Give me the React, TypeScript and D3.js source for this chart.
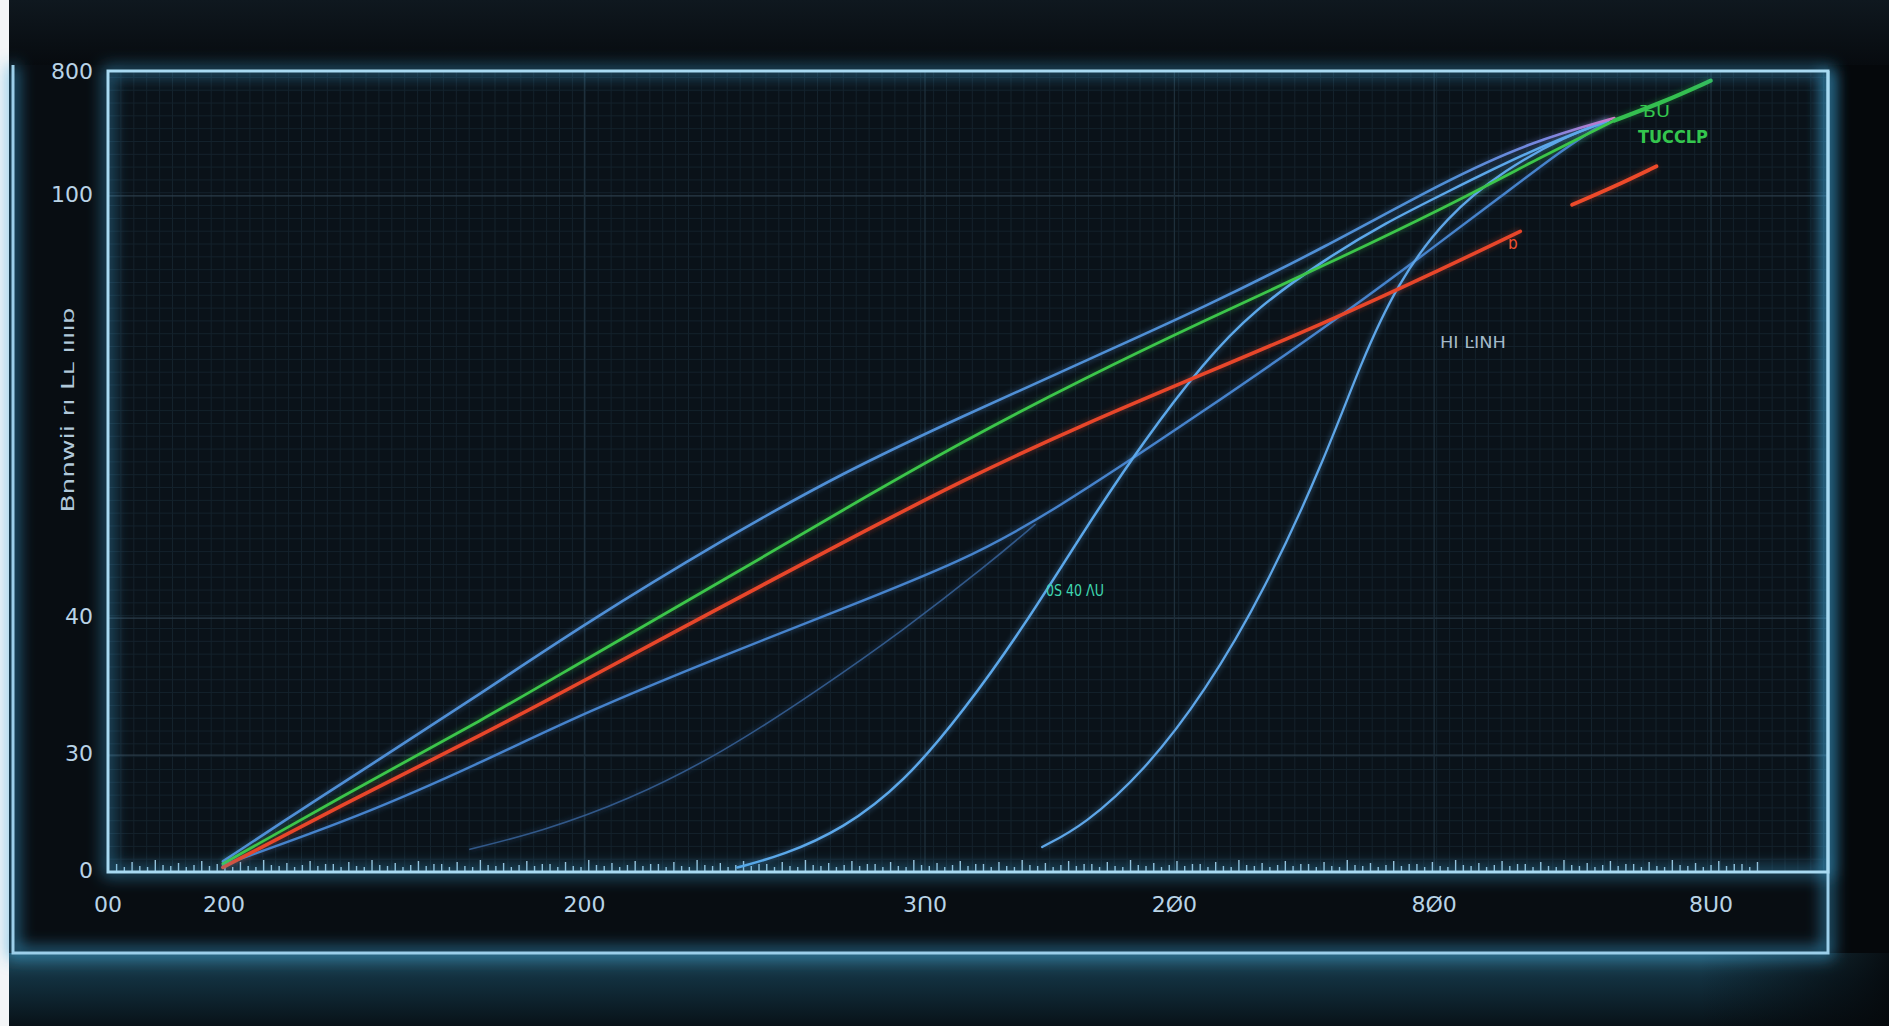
import React from 'react';
import * as d3 from 'd3';

const W = 1889;
const H = 1026;

// ---- axis ticks ----
const yTickValues = [0, 14.6, 31.7, 84.4, 99.8];
const yTickLabels = ['0', '30', '40', '100', '800'];
const xTickValues = [0, 6.75, 27.7, 47.5, 62.0, 77.1, 93.2];
const xTickLabels = ['00', '200', '200', '3Ո0', '2Ø0', '8Ø0', '8Ս0'];
const yAxisTitle = 'Bnnwii rı Lʟ ııııɒ';

// ---- series (x, y) ----
const blueTop: [number, number][] = [
  [6.68, 1.32], [11.23, 7.79], [14.73, 12.61], [21.74, 22.38], [27.69, 30.96], [35.74, 41.49],
  [42.75, 49.91], [49.76, 56.98], [56.76, 63.75], [63.76, 70.51], [70.77, 78.03], [77.77, 86.3],
  [82.67, 91.12], [87.58, 94.12],
];
const green: [number, number][] = [
  [6.68, 1.02], [14.73, 10.8], [21.74, 18.93], [27.69, 26.45], [35.74, 36.37], [42.75, 45.24],
  [49.76, 53.84], [56.76, 61.64], [63.76, 68.86], [70.77, 75.78], [77.77, 83.0], [83.37, 89.3],
  [87.58, 93.82],
];
const greenTail: [number, number][] = [[87.58, 93.82], [90.38, 96.08], [93.18, 98.79]];
const red: [number, number][] = [
  [6.68, 0.57], [14.73, 9.6], [21.74, 17.12], [27.69, 23.89], [35.74, 33.21], [42.75, 41.18],
  [49.76, 49.0], [56.76, 55.92], [63.76, 62.24], [70.77, 68.56], [77.77, 75.48], [82.11, 79.99],
];
const redTail: [number, number][] = [[85.12, 83.3], [87.58, 85.56], [90.03, 88.11]];
const blueMid: [number, number][] = [
  [6.68, 0.87], [14.73, 7.0], [21.74, 13.7], [27.69, 19.9], [35.74, 27.0], [42.75, 32.9],
  [49.76, 38.9], [54.66, 44.6], [63.76, 57.6], [70.77, 68.0], [75.88, 76.08], [81.27, 84.8],
  [84.77, 90.51], [87.23, 93.82],
];
const blueFaint: [number, number][] = [
  [21.04, 2.83], [25.24, 5.09], [30.14, 8.85], [35.74, 14.87], [41.35, 22.8], [46.25, 30.2],
  [51.16, 38.4], [53.9, 43.4],
];
const blueS1: [number, number][] = [
  [36.59, 0.57], [39.25, 2.08], [42.75, 5.39], [46.25, 11.1], [49.76, 20.12], [53.26, 30.66],
  [56.76, 42.69], [60.26, 53.97], [63.76, 63.75], [66.56, 70.06], [70.77, 76.53], [74.27, 81.04],
  [77.77, 84.8], [82.67, 90.06], [87.23, 93.82],
];
const blueS2: [number, number][] = [
  [54.31, 3.13], [56.76, 5.84], [60.26, 12.61], [63.76, 22.38], [67.26, 35.17], [70.77, 51.71],
  [72.87, 63.75], [74.97, 73.52], [77.77, 81.79], [81.27, 87.8], [84.77, 91.87], [87.23, 93.82],
];

// ---- annotations ----
const annoTexts = ['0S 40 ΛU', 'HI ĿINH', 'TUCCLP', 'ЪU', 'ɒ'];
const annoX = [54.53, 77.44, 88.95, 89.07, 81.4];
const annoY = [35.08, 66.04, 91.64, 94.88, 78.4];

// ---- layout / styles ----
const PL = 108, PR = 1828, PT = 71, PB = 872;
const annoColors = ['#3fd6b0', '#a3b8c8', '#34c64e', '#34c64e', '#ee5030'];
const annoSizes = [15, 16, 17, 15, 17];
const annoLens = [58, 66, 70, 30, 0];

const tickPattern = [8, 5, 10, 6, 5, 12, 7, 6, 9, 5, 7, 11, 6, 8];

export default function App() {
  const x = d3.scaleLinear().domain([0, 100]).range([PL, PR]);
  const y = d3.scaleLinear().domain([0, 100]).range([PB, PT]);
  const line = d3
    .line<[number, number]>()
    .x((d) => x(d[0]))
    .y((d) => y(d[1]))
    .curve(d3.curveBasis);

  const minorX = d3.range(0, 100, 0.75);
  const minorY = d3.range(0, 100, 1.6);
  const smallTicks = d3.range(0.5, 96, 0.45);

  const series = [
    { d: blueFaint, c: '#3a67a0', w: 1.6, o: 0.8 },
    { d: blueMid, c: '#4683cc', w: 2.4, o: 1 },
    { d: blueS2, c: '#5ea6e8', w: 2.3, o: 1 },
    { d: blueS1, c: '#5ca8ea', w: 2.5, o: 1 },
    { d: blueTop, c: 'url(#gradTop)', w: 2.6, o: 1 },
    { d: red, c: '#e8462a', w: 3.6, o: 1 },
    { d: green, c: '#3cc64a', w: 2.8, o: 1 },
    { d: greenTail, c: '#34c050', w: 4.2, o: 1 },
    { d: redTail, c: '#ee4a2a', w: 3.8, o: 1 },
  ];

  return (
    <svg
      width={W}
      height={H}
      viewBox={`0 0 ${W} ${H}`}
      style={{ position: 'fixed', left: 0, top: 0, display: 'block' }}
    >
      <defs>
        <linearGradient id="topBand" x1="0" y1="0" x2="0" y2="1">
          <stop offset="0" stopColor="#0f181f" />
          <stop offset="1" stopColor="#070b0f" />
        </linearGradient>
        <linearGradient id="bottomGlow" x1="0" y1="0" x2="0" y2="1">
          <stop offset="0" stopColor="#21495a" />
          <stop offset="0.35" stopColor="#12303f" />
          <stop offset="1" stopColor="#081218" />
        </linearGradient>
        <linearGradient id="bottomFade" x1="0" y1="0" x2="1" y2="0">
          <stop offset="0" stopColor="#05080b" stopOpacity="0" />
          <stop offset="0.9" stopColor="#05080b" stopOpacity="0" />
          <stop offset="1" stopColor="#05080b" stopOpacity="0.9" />
        </linearGradient>
        <linearGradient id="gradTop" gradientUnits="userSpaceOnUse" x1={x(78)} y1="0" x2={x(87.6)} y2="0">
          <stop offset="0" stopColor="#4f8fd6" />
          <stop offset="0.6" stopColor="#7a86e0" />
          <stop offset="1" stopColor="#d078c8" />
        </linearGradient>
        <filter id="glow" x="-20%" y="-20%" width="140%" height="140%">
          <feGaussianBlur stdDeviation="8" />
        </filter>
        <filter id="softglow" x="-10%" y="-10%" width="120%" height="120%">
          <feGaussianBlur stdDeviation="2.5" />
        </filter>
        <clipPath id="plotClip">
          <rect x={PL} y={PT} width={PR - PL} height={PB - PT} />
        </clipPath>
      </defs>

      {/* backgrounds */}
      <rect x={0} y={0} width={W} height={H} fill="#05080b" />
      <rect x={0} y={0} width={W} height={65} fill="url(#topBand)" />
      <rect x={13} y={65} width={PR - 13} height={953 - 65} fill="#080d12" />
      <rect x={0} y={953} width={W} height={H - 953} fill="url(#bottomGlow)" />
      <rect x={0} y={953} width={W} height={H - 953} fill="url(#bottomFade)" />
      <rect x={0} y={0} width={9} height={H} fill="#f3f5f7" />
      <rect x={PL} y={PT} width={PR - PL} height={PB - PT} fill="#0a1219" />

      {/* grid */}
      <g clipPath="url(#plotClip)">
        {minorX.map((v, i) => (
          <line key={'mx' + i} x1={x(v)} x2={x(v)} y1={PT} y2={PB} stroke="#14222c" strokeWidth={1} />
        ))}
        {minorY.map((v, i) => (
          <line key={'my' + i} x1={PL} x2={PR} y1={y(v)} y2={y(v)} stroke="#14222c" strokeWidth={1} />
        ))}
        {yTickValues.slice(1, 4).map((v, i) => (
          <line key={'gy' + i} x1={PL} x2={PR} y1={y(v)} y2={y(v)} stroke="#2b3d4a" strokeWidth={1.3} />
        ))}
        {xTickValues.slice(2).map((v, i) => (
          <line key={'gx' + i} x1={x(v)} x2={x(v)} y1={PT} y2={PB} stroke="#1e2f3b" strokeWidth={1.3} />
        ))}
      </g>

      {/* dense axis ticks */}
      {smallTicks.map((v, i) => (
        <line
          key={'st' + i}
          x1={x(v)}
          x2={x(v)}
          y1={PB}
          y2={PB - tickPattern[i % tickPattern.length]}
          stroke="#b4dcf2"
          strokeOpacity={0.9}
          strokeWidth={1.4}
        />
      ))}

      {/* series */}
      <g clipPath="url(#plotClip)">
        {series.map((s, i) => (
          <path
            key={'g' + i}
            d={line(s.d) || ''}
            fill="none"
            stroke={s.c}
            strokeWidth={s.w + 3}
            strokeOpacity={0.25 * s.o}
            filter="url(#softglow)"
          />
        ))}
        {series.map((s, i) => (
          <path
            key={'s' + i}
            d={line(s.d) || ''}
            fill="none"
            stroke={s.c}
            strokeWidth={s.w}
            strokeOpacity={s.o}
            strokeLinecap="round"
          />
        ))}
      </g>

      {/* frames with glow */}
      <path
        d={`M13,65 L13,953 L${PR},953 L${PR},${PT}`}
        fill="none"
        stroke="#3aa6dc"
        strokeWidth={10}
        strokeOpacity={0.7}
        filter="url(#glow)"
      />
      <rect
        x={PL}
        y={PT}
        width={PR - PL}
        height={PB - PT}
        fill="none"
        stroke="#3aa6dc"
        strokeWidth={9}
        strokeOpacity={0.6}
        filter="url(#glow)"
      />
      <path d={`M13,65 L13,953 L${PR},953 L${PR},${PT}`} fill="none" stroke="#9ccfea" strokeWidth={3} />
      <rect x={PL} y={PT} width={PR - PL} height={PB - PT} fill="none" stroke="#a8daf2" strokeWidth={3} />

      {/* y tick labels */}
      {yTickValues.map((v, i) => (
        <text
          key={'yl' + i}
          x={93}
          y={y(v)}
          textAnchor="end"
          dominantBaseline="middle"
          fontFamily="DejaVu Sans, sans-serif"
          fontSize={22}
          fill="#b9d3e6"
        >
          {yTickLabels[i]}
        </text>
      ))}

      {/* x tick labels */}
      {xTickValues.map((v, i) => (
        <text
          key={'xl' + i}
          x={x(v)}
          y={906}
          textAnchor="middle"
          dominantBaseline="middle"
          fontFamily="DejaVu Sans, sans-serif"
          fontSize={22}
          fill="#b9d3e6"
        >
          {xTickLabels[i]}
        </text>
      ))}

      {/* y axis title */}
      <text
        transform={`translate(69, 410) rotate(-90)`}
        textAnchor="middle"
        dominantBaseline="middle"
        fontFamily="DejaVu Sans, sans-serif"
        fontSize={17}
        fill="#b0c8da"
        textLength={205}
        lengthAdjust="spacingAndGlyphs"
      >
        {yAxisTitle}
      </text>

      {/* annotations */}
      {annoTexts.map((t, i) => (
        <text
          key={'an' + i}
          x={x(annoX[i])}
          y={y(annoY[i])}
          dominantBaseline="middle"
          fontFamily="DejaVu Sans Condensed, DejaVu Sans, sans-serif"
          fontSize={annoSizes[i]}
          fill={annoColors[i]}
          fontWeight={i === 2 ? 'bold' : 'normal'}
          {...(annoLens[i] ? { textLength: annoLens[i], lengthAdjust: 'spacingAndGlyphs' } : {})}
        >
          {t}
        </text>
      ))}
    </svg>
  );
}
